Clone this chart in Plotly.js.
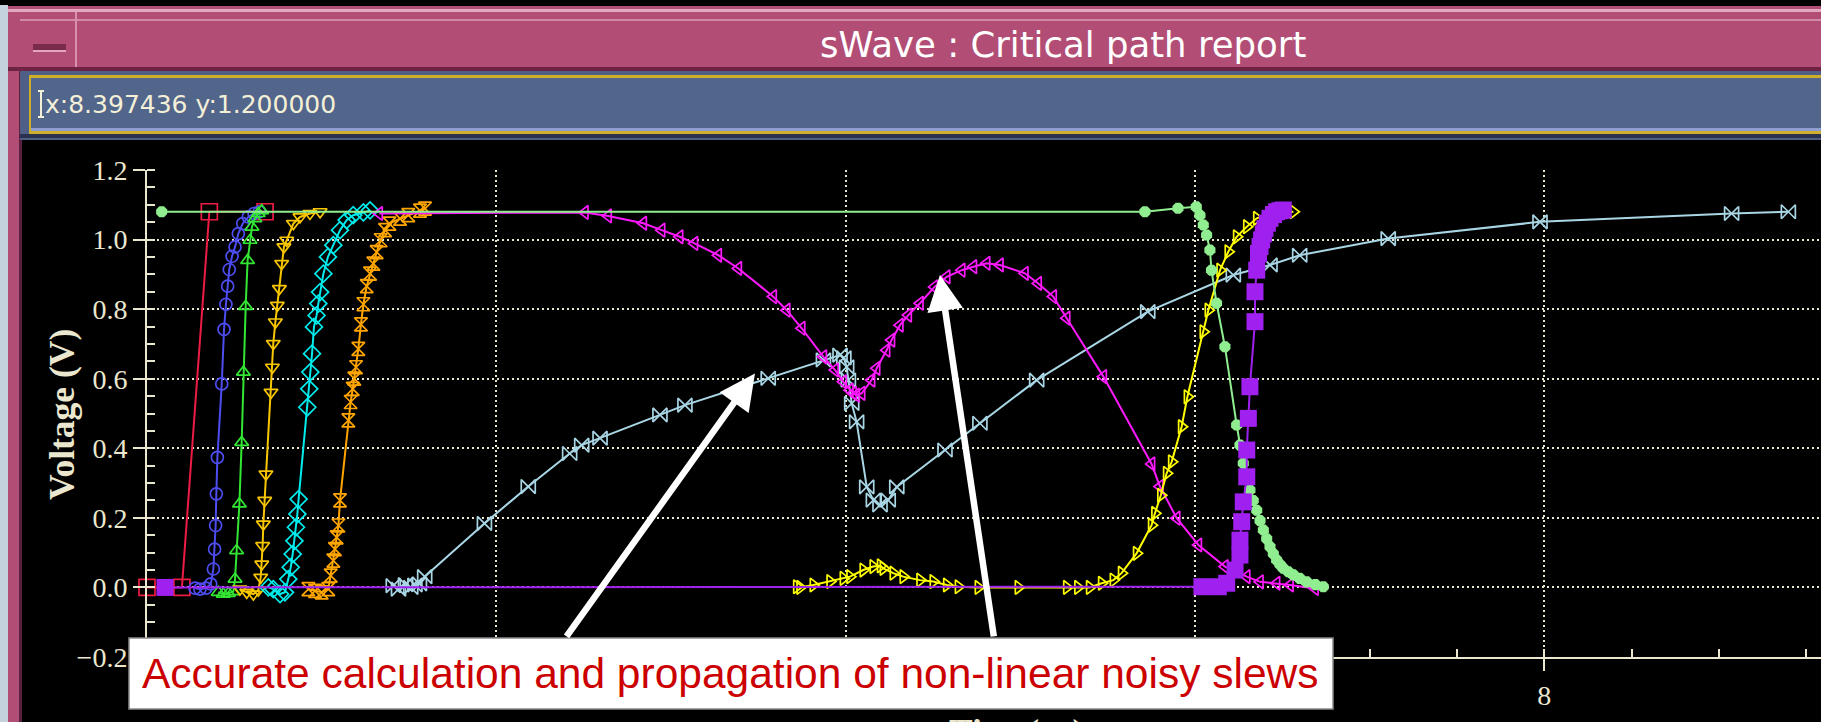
<!DOCTYPE html>
<html><head><meta charset="utf-8">
<script src="https://cdn.plot.ly/plotly-3.0.1.min.js"></script>
<style>html,body{margin:0;padding:0;background:#000;overflow:hidden}#chart{width:1821px;height:722px}</style>
</head><body><div id="chart"></div>
<script>
// ---------------- data ----------------
const redX = [0, 0.2, 0.357, 0.676];
const redY = [0, 0, 1.08, 1.08];

const blueX = [0.275, 0.303, 0.338, 0.365, 0.380, 0.387, 0.393, 0.397, 0.403, 0.428, 0.441, 0.452, 0.462, 0.471, 0.487, 0.504, 0.523, 0.548, 0.580, 0.613, 0.643];
const blueY = [-0.002, -0.005, -0.002, 0.01, 0.053, 0.11, 0.178, 0.269, 0.374, 0.585, 0.742, 0.814, 0.866, 0.914, 0.952, 0.979, 1.017, 1.046, 1.065, 1.075, 1.08];

const greenX = [0.408, 0.437, 0.466, 0.494, 0.504, 0.513, 0.529, 0.542, 0.552, 0.565, 0.576, 0.590, 0.601, 0.618, 0.637, 0.657];
const greenY = [-0.014, -0.019, -0.017, -0.012, 0.024, 0.106, 0.24, 0.417, 0.619, 0.808, 0.94, 0.998, 1.036, 1.06, 1.075, 1.083];

const goldX = [0.532, 0.571, 0.609, 0.637, 0.651, 0.657, 0.662, 0.666, 0.674, 0.681, 0.710, 0.718, 0.723, 0.735, 0.746, 0.758, 0.771, 0.784, 0.800, 0.838, 0.876, 0.933, 0.991];
const goldY = [-0.005, -0.014, -0.019, -0.008, 0.029, 0.067, 0.12, 0.182, 0.25, 0.326, 0.561, 0.633, 0.701, 0.763, 0.811, 0.859, 0.931, 0.979, 0.998, 1.046, 1.065, 1.075, 1.08];

const cyanX = [0.695, 0.723, 0.762, 0.790, 0.809, 0.823, 0.834, 0.844, 0.853, 0.861, 0.868, 0.918, 0.929, 0.935, 0.945, 0.956, 0.971, 0.981, 0.991, 1.010, 1.036, 1.067, 1.105, 1.143, 1.181, 1.239, 1.277];
const cyanY = [0, -0.005, -0.019, -0.014, 0.024, 0.058, 0.096, 0.134, 0.173, 0.211, 0.254, 0.518, 0.571, 0.619, 0.672, 0.749, 0.782, 0.816, 0.849, 0.902, 0.95, 0.984, 1.027, 1.056, 1.07, 1.078, 1.084];

const orangeX = [0.924, 0.962, 1.0, 1.038, 1.052, 1.067, 1.076, 1.086, 1.096, 1.105, 1.153, 1.166, 1.178, 1.187, 1.197, 1.210, 1.225, 1.239, 1.258, 1.277, 1.296, 1.315, 1.338, 1.363, 1.388, 1.449, 1.496, 1.563, 1.592];
const orangeY = [-0.005, -0.01, -0.014, -0.005, 0.034, 0.077, 0.11, 0.144, 0.178, 0.25, 0.48, 0.533, 0.571, 0.6, 0.633, 0.686, 0.756, 0.814, 0.866, 0.902, 0.931, 0.964, 0.998, 1.027, 1.046, 1.06, 1.07, 1.083, 1.089];

const lightblueX = [1.41, 1.44, 1.48, 1.51, 1.534, 1.56, 1.59, 1.932, 2.183, 2.42, 2.489, 2.594, 2.937, 3.08, 3.557, 3.873, 3.968, 3.99, 4.006, 4.016, 4.035, 4.063, 4.121, 4.159, 4.197, 4.244, 4.293, 4.569, 4.769, 5.094, 5.73, 6.22, 6.43, 6.6, 7.107, 7.976, 9.073, 9.398];
const lightblueY = [0.005, -0.005, 0.008, 0.0, 0.007, 0.01, 0.031, 0.184, 0.29, 0.385, 0.409, 0.429, 0.496, 0.524, 0.601, 0.654, 0.668, 0.66, 0.634, 0.596, 0.529, 0.476, 0.289, 0.251, 0.237, 0.251, 0.289, 0.395, 0.472, 0.596, 0.793, 0.898, 0.927, 0.955, 1.003, 1.051, 1.075, 1.08];

const magentaX = [1.33, 2.508, 2.641, 2.842, 2.947, 3.05, 3.135, 3.271, 3.386, 3.586, 3.663, 3.749, 3.873, 3.94, 3.987, 4.025, 4.044, 4.061, 4.092, 4.149, 4.178, 4.235, 4.263, 4.311, 4.359, 4.426, 4.509, 4.579, 4.665, 4.732, 4.808, 4.884, 5.027, 5.103, 5.189, 5.266, 5.476, 5.752, 5.80, 5.896, 6.02, 6.172, 6.297, 6.373, 6.468, 6.545, 6.688];
const magentaY = [1.075, 1.078, 1.068, 1.047, 1.027, 1.008, 0.989, 0.955, 0.917, 0.836, 0.797, 0.745, 0.663, 0.625, 0.591, 0.567, 0.558, 0.553, 0.558, 0.596, 0.63, 0.682, 0.711, 0.754, 0.783, 0.817, 0.864, 0.893, 0.912, 0.922, 0.932, 0.927, 0.903, 0.874, 0.836, 0.774, 0.606, 0.355, 0.29, 0.199, 0.122, 0.06, 0.031, 0.016, 0.012, 0.007, -0.003];

const yellowX = [3.72, 3.739, 3.815, 3.911, 3.987, 4.025, 4.101, 4.158, 4.20, 4.216, 4.273, 4.33, 4.426, 4.502, 4.579, 4.646, 4.76, 4.989, 5.266, 5.33, 5.397, 5.466, 5.533, 5.58, 5.666, 5.752, 5.771, 5.805, 5.838, 5.867, 5.924, 5.957, 6.048, 6.077, 6.144, 6.191, 6.239, 6.297, 6.354, 6.43, 6.564];
const yellowY = [0.002, 0.0, 0.007, 0.017, 0.026, 0.031, 0.05, 0.06, 0.062, 0.055, 0.041, 0.031, 0.021, 0.017, 0.007, 0.002, 0.0, 0.0, 0.0, 0.0, 0.0, 0.012, 0.021, 0.041, 0.098, 0.179, 0.213, 0.265, 0.328, 0.361, 0.462, 0.548, 0.735, 0.797, 0.912, 0.965, 1.008, 1.037, 1.061, 1.075, 1.08];

const lightgreenX = [0.084, 5.714, 5.903, 6.008, 6.029, 6.048, 6.067, 6.086, 6.095, 6.124, 6.172, 6.239, 6.258, 6.277, 6.296, 6.315, 6.334, 6.354, 6.373, 6.392, 6.411, 6.43, 6.449, 6.468, 6.487, 6.506, 6.535, 6.564, 6.60, 6.64, 6.69, 6.735];
const lightgreenY = [1.08, 1.08, 1.09, 1.094, 1.07, 1.042, 1.013, 0.97, 0.912, 0.817, 0.692, 0.467, 0.409, 0.357, 0.315, 0.28, 0.25, 0.222, 0.192, 0.165, 0.14, 0.117, 0.097, 0.079, 0.066, 0.055, 0.045, 0.036, 0.026, 0.016, 0.008, 0.002];

const purpleX = [0.103, 6.04, 6.134, 6.182, 6.23, 6.258, 6.258, 6.268, 6.277, 6.297, 6.297, 6.306, 6.315, 6.344, 6.344, 6.354, 6.364, 6.373, 6.382, 6.392, 6.401, 6.415, 6.43, 6.45, 6.468, 6.487, 6.506];
const purpleY = [0, 0.002, 0.002, 0.012, 0.05, 0.093, 0.136, 0.189, 0.246, 0.318, 0.395, 0.486, 0.577, 0.764, 0.85, 0.912, 0.96, 0.98, 0.999, 1.016, 1.032, 1.047, 1.061, 1.072, 1.08, 1.083, 1.085];

// x tick labels 0-6 sit under the note box in the reference, only "8" shows
const xTickVals = [0, 2, 4, 6, 8];
const xTickText = ['', '', '', '', '8'];
const yTickVals = [-0.2, 0, 0.2, 0.4, 0.6, 0.8, 1.0, 1.2];

const windowTitle = 'sWave : Critical path report';
const cursorText = 'x:8.397436 y:1.200000';
const noteText = 'Accurate calculation and propagation of non-linear noisy slews';
const xTitle = 'Time(ns)';
const yTitle = 'Voltage (V)';
// arrow targets (data units) and tails on the note box
const arrowHeadX = [3.481, 4.540];
const arrowHeadY = [0.615, 0.898];
const arrowTailX = [2.396, 4.850];
const arrowTailY = [-0.145, -0.145];

// ---------------- styling ----------------
const series = [
  {x: redX, y: redY, c: '#ec1c44', s: 'square-open', z: 16},
  {x: blueX, y: blueY, c: '#4d4df0', s: 'circle-open', z: 12},
  {x: greenX, y: greenY, c: '#33e633', s: 'triangle-up-open', z: 12},
  {x: goldX, y: goldY, c: '#f7c600', s: 'triangle-down-open', z: 12},
  {x: cyanX, y: cyanY, c: '#00ecec', s: 'diamond-open', z: 13},
  {x: orangeX, y: orangeY, c: '#ffa500', s: 'hourglass-open', z: 13},
  {x: lightblueX, y: lightblueY, c: '#a9d6e5', s: 'bowtie-open', z: 14},
  {x: magentaX, y: magentaY, c: '#ff1aff', s: 'triangle-left-open', z: 12},
  {x: yellowX, y: yellowY, c: '#ffff00', s: 'triangle-right-open', z: 12},
  {x: lightgreenX, y: lightgreenY, c: '#90ee90', s: 'octagon', z: 12, fill: true},
  {x: purpleX, y: purpleY, c: '#a020f0', s: 'square', z: 17, fill: true}
];

const traces = series.map(d => ({
  type: 'scatter', mode: 'lines+markers', x: d.x, y: d.y, cliponaxis: false,
  line: {color: d.c, width: 2},
  marker: {symbol: d.s, size: d.z, color: d.c, line: {color: d.c, width: d.fill ? 0 : 1.7}},
  hoverinfo: 'skip'
}));

const W = 1821, H = 722, L = 147, R = 1821, T = 170, B = 657;
const px = x => (x - L) / (R - L);
const py = y => (B - y) / (B - T);
function rect(x0, y0, x1, y1, fill, layer) {
  return {type: 'rect', xref: 'paper', yref: 'paper', x0: px(x0), x1: px(x1), y0: py(y1), y1: py(y0),
          fillcolor: fill, line: {width: 0}, layer: layer || 'below'};
}
function seg(x0, y0, x1, y1, color, w) {
  return {type: 'line', xref: 'paper', yref: 'paper', x0: px(x0), x1: px(x1), y0: py(y0), y1: py(y1),
          line: {color: color, width: w}, layer: 'below'};
}

const cream = '#ebe7cf';
const shapes = [
  // left border strip and window frame
  rect(0, 5, 8, 722, '#c3d2dc'),
  rect(8, 6, 20, 722, '#b24e76'),
  rect(19, 70, 22, 722, '#5a2040'),
  // title bar
  rect(8, 6, 1821, 70, '#b24e76'),
  rect(8, 9, 1821, 12, '#e3a8bf'),
  rect(20, 19, 1821, 21, '#d08aa6'),
  rect(75, 12, 77, 70, '#d890ac'),
  rect(8, 67, 1821, 71, '#6e2244'),
  rect(33, 44, 66, 50, '#7a2a4c'),
  rect(33, 50, 66, 52, '#e3a8bf'),
  // coordinate bar
  rect(20, 71, 1821, 140, '#4f5f86'),
  rect(29, 75, 1821, 134, '#cfae2a'),
  rect(31, 78, 1821, 131, '#52658b'),
  rect(31, 128, 1821, 131, '#8fa0d0'),
  rect(20, 134, 1821, 138, '#2a3250'),
  // text cursor
  seg(41, 91, 41, 117, '#f4f0d8', 2),
  seg(38, 91, 44, 91, '#f4f0d8', 2),
  seg(38, 117, 44, 117, '#f4f0d8', 2),
  // note box
  {type: 'rect', xref: 'paper', yref: 'paper', x0: px(129), x1: px(1333), y0: py(709), y1: py(638),
   fillcolor: '#ffffff', line: {color: '#8a8a8a', width: 1.5}, layer: 'above'}
];

const titleFont = {family: 'Liberation Serif', size: 35.5, color: cream, weight: 'bold'};
const annotations = [
  {xref: 'paper', yref: 'paper', x: px(1063), y: py(44), xanchor: 'center', yanchor: 'middle', showarrow: false,
   text: windowTitle, font: {family: 'DejaVu Sans', size: 35.5, color: '#ffffff'}},
  {xref: 'paper', yref: 'paper', x: px(43), y: py(104.5), xanchor: 'left', yanchor: 'middle', showarrow: false,
   text: cursorText, font: {family: 'DejaVu Sans', size: 25, color: '#f4f0d8'}},
  {xref: 'paper', yref: 'paper', x: px(730), y: py(673.5), xanchor: 'center', yanchor: 'middle', showarrow: false,
   text: noteText, font: {family: 'Liberation Sans', size: 42.5, color: '#cc0000'}},
  // axis titles (the x title is cut by the bottom of the window, as in the reference)
  {xref: 'paper', yref: 'paper', x: px(62), y: py(415), xanchor: 'center', yanchor: 'middle', showarrow: false,
   textangle: -90, text: yTitle, font: titleFont},
  {xref: 'paper', yref: 'paper', x: px(1016), y: py(710), xanchor: 'center', yanchor: 'top', showarrow: false,
   text: xTitle, font: titleFont}
];
for (let i = 0; i < arrowHeadX.length; i++) {
  annotations.push({xref: 'x', yref: 'y', axref: 'x', ayref: 'y', x: arrowHeadX[i], y: arrowHeadY[i],
    ax: arrowTailX[i], ay: arrowTailY[i], text: '', showarrow: true, arrowhead: 2, arrowsize: 1.1,
    arrowwidth: 6.5, arrowcolor: '#ffffff', standoff: 0, startstandoff: 0});
}

const axisCommon = {
  showline: true, linecolor: cream, linewidth: 2, mirror: false,
  ticks: 'outside', ticklen: 12, tickwidth: 2, tickcolor: cream,
  showgrid: true, gridcolor: cream, gridwidth: 2, griddash: '2px,3px',
  zeroline: false, fixedrange: true,
  tickfont: {family: 'Liberation Serif', size: 28, color: cream}
};

const layout = {
  width: W, height: H,
  margin: {l: L, r: W - R, t: T, b: H - B, pad: 0},
  paper_bgcolor: '#000000', plot_bgcolor: '#000000', showlegend: false,
  xaxis: Object.assign({}, axisCommon, {
    range: [0, (R - L) / 174.65], tickmode: 'array', tickvals: xTickVals, ticktext: xTickText,
    minor: {dtick: 0.5, tick0: 0, ticks: 'inside', ticklen: 8, tickwidth: 2, tickcolor: cream, showgrid: false}
  }),
  yaxis: Object.assign({}, axisCommon, {
    range: [-0.2, 1.2], tickmode: 'array', tickvals: yTickVals, tickformat: '.1f',
    minor: {dtick: 0.05, tick0: 0, ticks: 'inside', ticklen: 8, tickwidth: 2, tickcolor: cream, showgrid: false}
  }),
  shapes: shapes,
  annotations: annotations
};

Plotly.newPlot('chart', traces, layout, {displayModeBar: false, staticPlot: true});
</script></body></html>
